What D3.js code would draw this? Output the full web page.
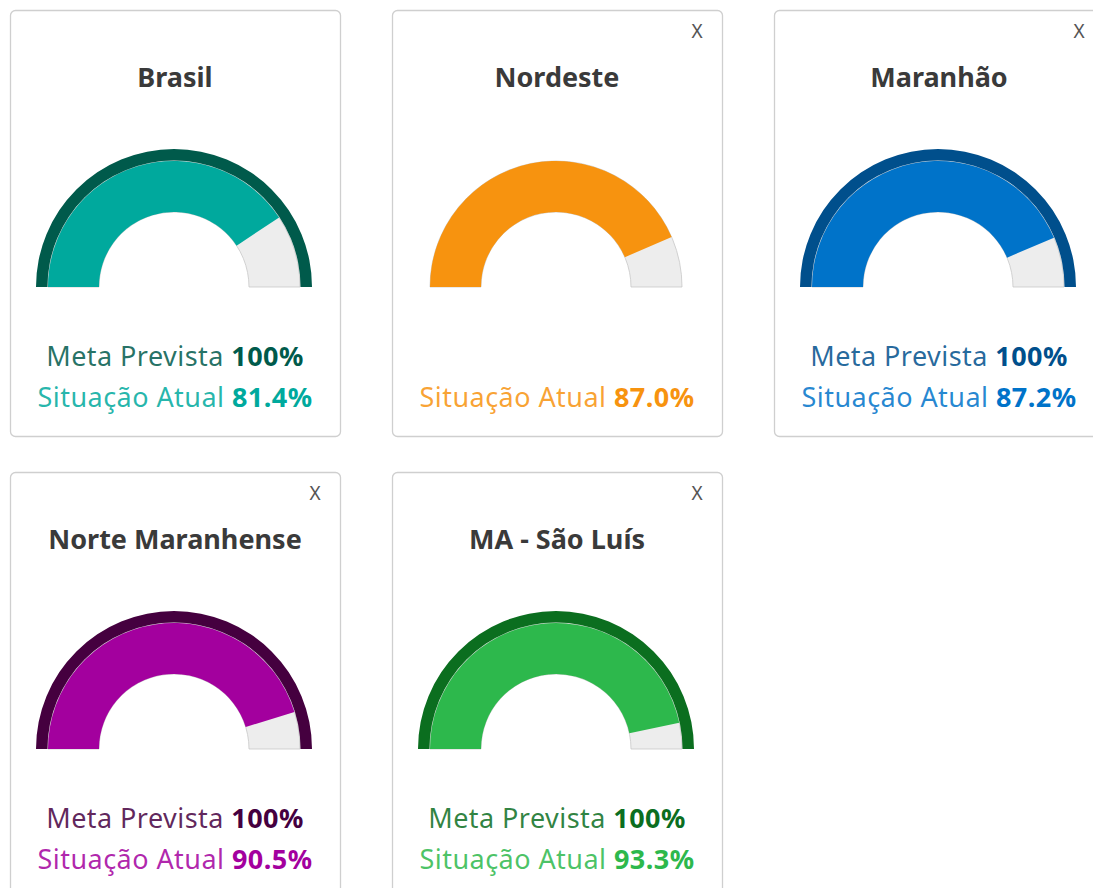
<!DOCTYPE html>
<html>
<head>
<meta charset="utf-8">
<script src="https://cdn.jsdelivr.net/npm/d3@7"></script>
<style>
  body { margin: 0; background: #fff; }
  svg { display: block; font-family: "Noto Sans", sans-serif; }
</style>
</head>
<body>
<div id="gauges"></div>
<script>
var regions = ["Brasil", "Nordeste", "Maranhão", "Norte Maranhense", "MA - São Luís"];
var atual = [81.4, 87.0, 87.2, 90.5, 93.3];
var meta = [100, null, 100, 100, 100];
var closable = [false, true, true, true, true];

var FILL_COLORS = ["#00a99d", "#f7930f", "#0073c9", "#a3009e", "#2db84c"];
var DARK_COLORS = ["#005a4b", "#b36200", "#004f8c", "#45003f", "#0b6e1f"];

var WIDTH = 1093;
var HEIGHT = 888;
var CARD_W = 330;
var CARD_H = 426;
var COLS = 3;
var GAP_X = 52;
var GAP_Y = 36;
var OUTER = 126;
var INNER = 75;
var BAND = 12;

var angle = d3.scaleLinear().domain([0, 100]).range([-Math.PI / 2, Math.PI / 2]);

var svg = d3.select("#gauges").append("svg")
	.attr("width", WIDTH)
	.attr("height", HEIGHT);

var cards = svg.selectAll("g.card")
	.data(regions)
	.enter()
	.append("g")
	.attr("class", "card")
	.attr("transform", (d, i) => "translate(" + (10 + (i % COLS) * (CARD_W + GAP_X)) + "," + (10 + Math.floor(i / COLS) * (CARD_H + GAP_Y)) + ")");

cards.append("rect")
	.attr("x", 0.5)
	.attr("y", 0.5)
	.attr("width", CARD_W)
	.attr("height", CARD_H)
	.attr("rx", 5)
	.attr("fill", "#fff")
	.attr("stroke", "#cfcfcf")
	.attr("stroke-width", 1.3);

cards.filter((d, i) => closable[i])
	.append("text")
	.attr("x", CARD_W - 25)
	.attr("y", 28)
	.attr("text-anchor", "middle")
	.style("font-size", "19px")
	.attr("fill", "#555")
	.text("X");

cards.append("text")
	.attr("x", CARD_W / 2)
	.attr("y", 77)
	.attr("text-anchor", "middle")
	.style("font-size", "27px")
	.style("font-weight", "bold")
	.attr("fill", "#3a3a3a")
	.text(d => d);

var gauge = cards.append("g")
	.attr("transform", "translate(" + (CARD_W / 2 - 1) + ",277)");

// background pane
gauge.append("path")
	.attr("d", d3.arc()({innerRadius: INNER, outerRadius: OUTER, startAngle: angle(0), endAngle: angle(100)}))
	.attr("fill", "#ededed")
	.attr("stroke", "#c8c8c8")
	.attr("stroke-width", 0.8);

// current value
gauge.append("path")
	.attr("d", (d, i) => d3.arc()({innerRadius: INNER, outerRadius: OUTER, startAngle: angle(0), endAngle: angle(atual[i])}))
	.attr("fill", (d, i) => FILL_COLORS[i]);

// target band (Nordeste has none)
gauge.filter(d => meta[regions.indexOf(d)] !== null)
	.append("path")
	.attr("d", d => d3.arc()({innerRadius: OUTER + 0.5, outerRadius: OUTER + BAND, startAngle: angle(0), endAngle: angle(meta[regions.indexOf(d)])}))
	.attr("fill", d => DARK_COLORS[regions.indexOf(d)]);

function fmt(v) {
	return v === 100 ? "100%" : v.toFixed(1) + "%";
}

var metaText = cards.filter(d => meta[regions.indexOf(d)] !== null)
	.append("text")
	.attr("x", CARD_W / 2)
	.attr("y", 356)
	.attr("text-anchor", "middle")
	.style("font-size", "27px")
	.style("letter-spacing", "0.45px");
metaText.append("tspan")
	.attr("fill", d => DARK_COLORS[regions.indexOf(d)])
	.attr("fill-opacity", 0.85)
	.text("Meta Prevista ");
metaText.append("tspan")
	.attr("fill", d => DARK_COLORS[regions.indexOf(d)])
	.style("font-weight", "bold")
	.text(d => fmt(meta[regions.indexOf(d)]));

var atualText = cards.append("text")
	.attr("x", CARD_W / 2)
	.attr("y", 397)
	.attr("text-anchor", "middle")
	.style("font-size", "27px")
	.style("letter-spacing", "0.45px");
atualText.append("tspan")
	.attr("fill", d => FILL_COLORS[regions.indexOf(d)])
	.attr("fill-opacity", 0.85)
	.text("Situação Atual ");
atualText.append("tspan")
	.attr("fill", d => FILL_COLORS[regions.indexOf(d)])
	.style("font-weight", "bold")
	.text(d => fmt(atual[regions.indexOf(d)]));
</script>
</body>
</html>
